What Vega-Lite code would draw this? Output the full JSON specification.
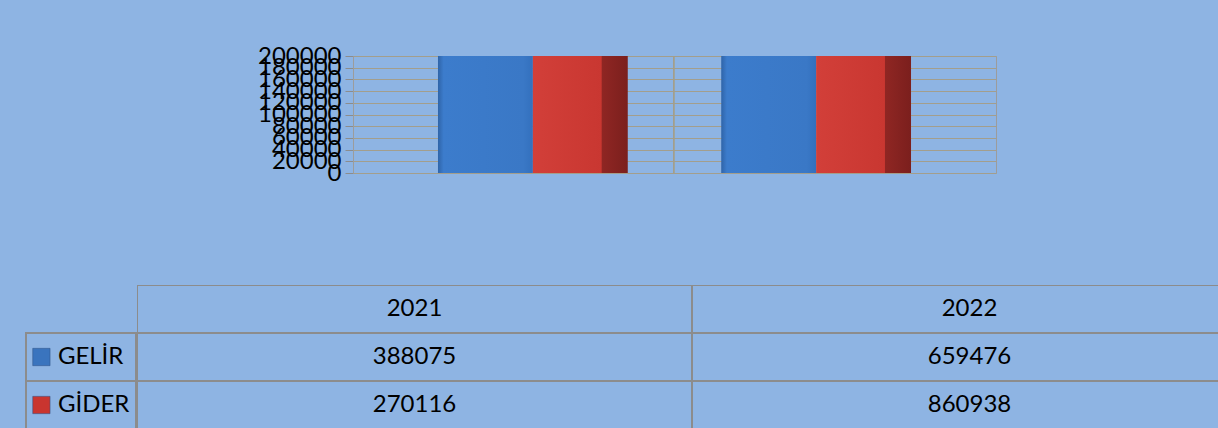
{
  "$schema": "https://vega.github.io/schema/vega-lite/v6.json",
  "background": "#8EB4E3",
  "padding": {"left": 25, "top": 43, "right": 0, "bottom": 0},
  "spacing": 99,
  "datasets": {
    "butce": [
      {"yil": "2021", "kalem": "GELİR", "tutar": 388075},
      {"yil": "2022", "kalem": "GELİR", "tutar": 659476},
      {"yil": "2021", "kalem": "GİDER", "tutar": 270116},
      {"yil": "2022", "kalem": "GİDER", "tutar": 860938}
    ]
  },
  "config": {
    "font": "Lato",
    "view": {"stroke": null},
    "text": {"font": "Lato", "fontSize": 24, "color": "#000000"}
  },
  "vconcat": [
    {
      "spacing": 0,
      "hconcat": [
        {
          "width": 230,
          "height": 117,
          "data": {"values": []},
          "mark": "point",
          "encoding": {}
        },
        {
          "width": 643,
          "height": 117,
          "data": {"name": "butce"},
          "view": {"stroke": "#9C9C9C"},
          "encoding": {
            "x": {"field": "yil", "type": "nominal", "scale": {"domain": ["2021", "2022"], "paddingInner": 0.33, "paddingOuter": 0.3}, "axis": null},
            "xOffset": {"field": "kalem", "type": "nominal", "scale": {"domain": ["GELİR", "GİDER"], "paddingInner": 0, "paddingOuter": 0}},
            "y": {
              "field": "tutar", "type": "quantitative",
              "scale": {"domain": [0, 200000], "clamp": true, "nice": false},
              "axis": {
                "values": [0, 20000, 40000, 60000, 80000, 100000, 120000, 140000, 160000, 180000, 200000],
                "format": "d", "labelOverlap": false, "labelFontSize": 24, "labelFont": "Lato", "labelColor": "#000000",
                "tickColor": "#8C8C8C", "tickSize": 8, "domainColor": "#9C9C9C", "gridColor": "#A39E8C", "grid": true,
                "title": null, "minExtent": 95, "maxExtent": 95, "labelPadding": 4
              }
            }
          },
          "layer": [
            {
              "mark": {"type": "rule", "color": "#A39E8C", "strokeWidth": 1},
              "encoding": {
                "x": {"datum": "2022", "type": "nominal", "bandPosition": -0.25},
                "xOffset": null,
                "y": null
              }
            },
            {
              "transform": [{"filter": "datum.kalem === 'GELİR'"}],
              "mark": {
                "type": "bar",
                "color": {
                  "gradient": "linear", "x1": 0, "x2": 1, "y1": 0, "y2": 0,
                  "stops": [
                    {"offset": 0, "color": "#2F64A8"},
                    {"offset": 0.06, "color": "#3C7CCC"},
                    {"offset": 0.9, "color": "#3A78C6"},
                    {"offset": 1, "color": "#3370BD"}
                  ]
                }
              }
            },
            {
              "transform": [{"filter": "datum.kalem === 'GİDER'"}],
              "mark": {
                "type": "bar",
                "color": {
                  "gradient": "linear", "x1": 0, "x2": 1, "y1": 0, "y2": 0,
                  "stops": [
                    {"offset": 0, "color": "#D23F39"},
                    {"offset": 0.72, "color": "#C93731"},
                    {"offset": 0.73, "color": "#8F2623"},
                    {"offset": 1, "color": "#7B1F1D"}
                  ]
                }
              }
            }
          ]
        }
      ]
    },
    {
      "spacing": 0,
      "hconcat": [
        {
          "width": 110,
          "height": 144,
          "data": {"name": "butce"},
          "transform": [{"aggregate": [{"op": "count", "as": "n"}], "groupby": ["kalem"]}],
          "encoding": {
            "y": {"field": "kalem", "type": "nominal", "scale": {"domain": ["Yıl", "GELİR", "GİDER"], "paddingInner": 0, "paddingOuter": 0}, "axis": null}
          },
          "layer": [
            {
              "mark": {"type": "rect", "filled": false, "color": "#8C8C8C", "strokeWidth": 2, "opacity": 1},
              "encoding": {"x": {"datum": "etiket", "type": "nominal", "scale": {"paddingInner": 0, "paddingOuter": 0}, "axis": null}}
            },
            {
              "mark": {"type": "square", "size": 300, "opacity": 1, "stroke": "#2A4F80", "strokeWidth": 0.5},
              "encoding": {
                "x": {"datum": "etiket", "type": "nominal", "bandPosition": 0.14},
                "color": {"field": "kalem", "type": "nominal", "scale": {"domain": ["GELİR", "GİDER"], "range": ["#3A74BE", "#C9352F"]}, "legend": null}
              }
            },
            {
              "mark": {"type": "text", "align": "left", "baseline": "middle", "fontSize": 24},
              "encoding": {
                "x": {"datum": "etiket", "type": "nominal", "bandPosition": 0.29},
                "text": {"field": "kalem"}
              }
            }
          ]
        },
        {
          "width": 1083,
          "height": 144,
          "data": {"name": "butce"},
          "encoding": {
            "x": {"field": "yil", "type": "nominal", "scale": {"range": [0, 1110], "paddingInner": 0, "paddingOuter": 0}, "axis": null},
            "y": {"field": "kalem", "type": "nominal", "scale": {"domain": ["Yıl", "GELİR", "GİDER"], "paddingInner": 0, "paddingOuter": 0}, "axis": null}
          },
          "layer": [
            {
              "mark": {"type": "rect", "filled": false, "color": "#8C8C8C", "strokeWidth": 2, "opacity": 1, "clip": true}
            },
            {
              "mark": {"type": "text", "baseline": "middle", "fontSize": 24},
              "encoding": {"text": {"field": "tutar", "type": "quantitative", "format": "d"}}
            },
            {
              "transform": [{"aggregate": [{"op": "count", "as": "n"}], "groupby": ["yil"]}],
              "mark": {"type": "rect", "filled": false, "color": "#8C8C8C", "strokeWidth": 2, "opacity": 1, "clip": true},
              "encoding": {"y": {"datum": "Yıl", "type": "nominal"}}
            },
            {
              "transform": [{"aggregate": [{"op": "count", "as": "n"}], "groupby": ["yil"]}],
              "mark": {"type": "text", "baseline": "middle", "fontSize": 24},
              "encoding": {"y": {"datum": "Yıl", "type": "nominal"}, "text": {"field": "yil"}}
            }
          ]
        }
      ]
    }
  ]
}
